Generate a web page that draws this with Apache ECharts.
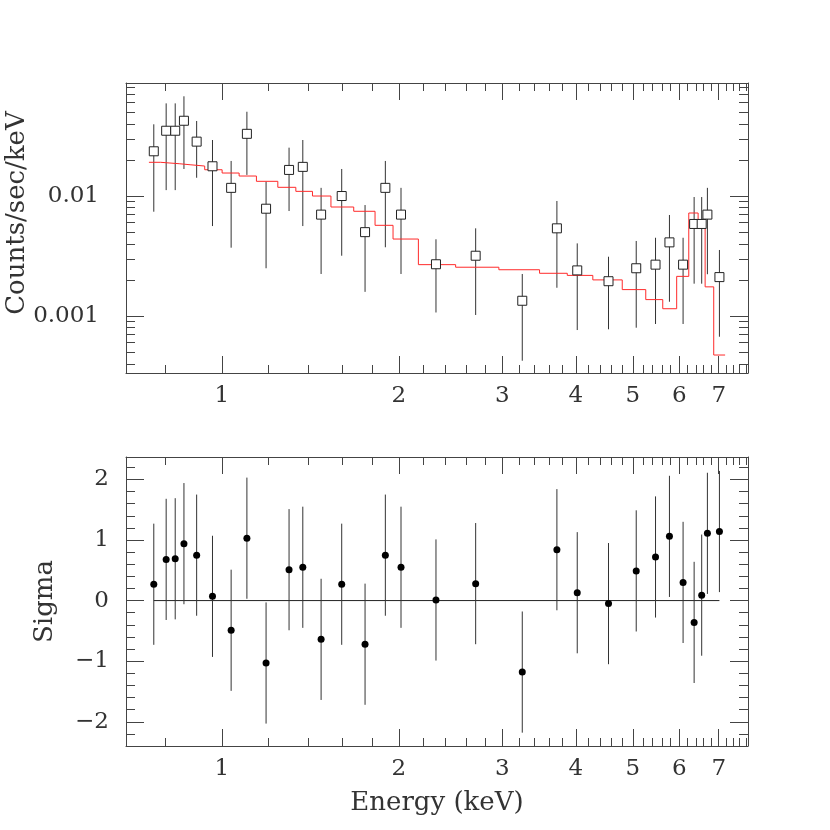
<!DOCTYPE html>
<html>
<head>
<meta charset="utf-8">
<script src="https://cdn.jsdelivr.net/npm/echarts@6/dist/echarts.min.js"></script>
<style>
  html, body { margin: 0; padding: 0; background: #fff; }
  #chart { width: 830px; height: 830px; }
</style>
</head>
<body>
<div id="chart"></div>
<script>
// data points (energy in keV)
const energy = [0.766, 0.804, 0.833, 0.862, 0.906, 0.964, 1.037, 1.103, 1.189, 1.301,
  1.373, 1.475, 1.599, 1.752, 1.897, 2.017, 2.313, 2.702, 3.243, 3.714,
  4.022, 4.546, 5.067, 5.465, 5.771, 6.088, 6.357, 6.548, 6.696, 7.019];
const counts = [0.0236, 0.0350, 0.0350, 0.0424, 0.0284, 0.0177, 0.0117, 0.0330, 0.00784, 0.0165,
  0.0175, 0.0070, 0.0100, 0.0050, 0.0117, 0.0070, 0.0027, 0.00318, 0.00134, 0.00538,
  0.0024, 0.00195, 0.0025, 0.00268, 0.00411, 0.00268, 0.00585, 0.00585, 0.0070, 0.00211];
const countsLo = [0.0074, 0.0112, 0.0112, 0.0168, 0.0142, 0.00562, 0.00371, 0.0150, 0.0025, 0.0075,
  0.00562, 0.00224, 0.00318, 0.00159, 0.00374, 0.00224, 0.00107, 0.00102, 0.000424, 0.00172,
  0.000764, 0.000775, 0.000799, 0.000858, 0.001315, 0.000858, 0.00186, 0.00186, 0.00223, 0.000672];
const countsHi = [0.0396, 0.0592, 0.0592, 0.0678, 0.0422, 0.0293, 0.0196, 0.0504, 0.0132, 0.0253,
  0.0293, 0.0117, 0.0168, 0.00841, 0.0196, 0.0117, 0.00436, 0.00538, 0.00224, 0.00909,
  0.00403, 0.00312, 0.00422, 0.00449, 0.00695, 0.00449, 0.00981, 0.00981, 0.0117, 0.00355];
const sigma = [0.27, 0.68, 0.69, 0.94, 0.75, 0.07, -0.49, 1.03, -1.03, 0.51,
  0.55, -0.64, 0.27, -0.72, 0.75, 0.55, 0.01, 0.28, -1.18, 0.84,
  0.13, -0.05, 0.49, 0.72, 1.06, 0.30, -0.36, 0.09, 1.11, 1.14];
const sigmaErr = 1;

// model histogram
const modelEdges = [0.7515, 0.787, 0.816, 0.846, 0.883, 0.935, 1.001, 1.070, 1.145, 1.245,
  1.336, 1.426, 1.533, 1.676, 1.822, 1.955, 2.159, 2.498, 2.959, 3.470,
  3.868, 4.275, 4.797, 5.260, 5.622, 5.937, 6.225, 6.457, 6.637, 6.864, 7.177];
const modelValues = [0.0191, 0.01884, 0.01859, 0.01823, 0.01778, 0.01656, 0.01555, 0.01468, 0.01326, 0.01182,
  0.01094, 0.0100, 0.00810, 0.00746, 0.00570, 0.00438, 0.00268, 0.00255, 0.00243, 0.00227,
  0.00218, 0.00200, 0.00166, 0.00137, 0.00115, 0.00214, 0.00722, 0.00548, 0.00175, 0.000473];

// ticks
const xMajor = [1, 2, 3, 4, 5, 6, 7];
const xMinor = [0.8, 1.2, 1.4, 1.6, 1.8, 2.2, 2.4, 2.6, 2.8, 3.2, 3.4, 3.6, 3.8,
  4.2, 4.4, 4.6, 4.8, 5.2, 5.4, 5.6, 5.8, 6.2, 6.4, 6.6, 6.8, 7.2, 7.4, 7.6, 7.8];
const yTopMajor = [0.001, 0.01];
const yTopMinor = [0.0004, 0.0005, 0.0006, 0.0007, 0.0008, 0.0009,
  0.002, 0.003, 0.004, 0.005, 0.006, 0.007, 0.008, 0.009,
  0.02, 0.03, 0.04, 0.05, 0.06, 0.07, 0.08];
const yBotMajor = [-2, -1, 0, 1, 2];
const yBotMinor = [-2.2, -1.8, -1.6, -1.4, -1.2, -0.8, -0.6, -0.4, -0.2,
  0.2, 0.4, 0.6, 0.8, 1.2, 1.4, 1.6, 1.8, 2.2];

const X_MIN = 0.687, X_MAX = 7.85;
const FONT = 'DejaVu Serif';
const INK = '#333';
const FRAME = '#444';

// frame: true draws the axis line, label: object or false
function xAx(grid, pos, ticks, len, frame, label, extra) {
  return Object.assign({
    type: 'log', logBase: 10, gridIndex: grid, position: pos, min: X_MIN, max: X_MAX,
    axisLine: { show: frame, onZero: false, lineStyle: { color: FRAME, width: 1 } },
    axisTick: { show: true, inside: true, length: len, customValues: ticks, lineStyle: { color: FRAME, width: 1 } },
    axisLabel: label ? {
      show: true, customValues: ticks, margin: 12, color: INK, fontFamily: FONT, fontSize: 23,
      formatter: v => String(v)
    } : { show: false },
    splitLine: { show: false }, minorTick: { show: false }
  }, extra || {});
}

function yAx(grid, pos, type, min, max, ticks, len, frame, label, extra) {
  return Object.assign({
    type: type, gridIndex: grid, position: pos, min: min, max: max,
    axisLine: { show: frame, onZero: false, lineStyle: { color: FRAME, width: 1 } },
    axisTick: { show: true, inside: true, length: len, customValues: ticks, lineStyle: { color: FRAME, width: 1 } },
    axisLabel: label ? Object.assign({
      show: true, customValues: ticks, color: INK, fontFamily: FONT, fontSize: 23
    }, label) : { show: false },
    splitLine: { show: false }, minorTick: { show: false }
  }, extra || {});
}

function errorBars(params, api) {
  const x = api.value(0);
  const p1 = api.coord([x, api.value(1)]);
  const p2 = api.coord([x, api.value(2)]);
  return {
    type: 'line',
    shape: { x1: p1[0], y1: p1[1], x2: p2[0], y2: p2[1] },
    style: { stroke: '#333', lineWidth: 1 }
  };
}

const modelLine = [];
modelValues.forEach((v, i) => {
  modelLine.push([modelEdges[i], v]);
  modelLine.push([modelEdges[i + 1], v]);
});

const nameStyle = { color: INK, fontFamily: FONT, fontSize: 26 };
const Y_TOP = [0.000335, 0.0875];
const Y_BOT = [-2.4, 2.37];

const chart = echarts.init(document.getElementById('chart'), null, { renderer: 'canvas' });
chart.setOption({
  backgroundColor: '#fff',
  animation: false,
  grid: [
    { left: 126, top: 83, width: 622, height: 290, containLabel: false, outerBoundsMode: 'none' },
    { left: 126, top: 457, width: 622, height: 289, containLabel: false, outerBoundsMode: 'none' }
  ],
  xAxis: [
    xAx(0, 'bottom', xMajor, 17, true, true),
    xAx(0, 'bottom', xMinor, 8, false, false),
    xAx(0, 'top', xMajor, 17, true, false),
    xAx(0, 'top', xMinor, 8, false, false),
    xAx(1, 'bottom', xMajor, 17, true, true, {
      name: 'Energy (keV)', nameLocation: 'middle', nameGap: 44, nameMoveOverlap: false,
      nameTextStyle: nameStyle
    }),
    xAx(1, 'bottom', xMinor, 8, false, false),
    xAx(1, 'top', xMajor, 17, true, false),
    xAx(1, 'top', xMinor, 8, false, false)
  ],
  yAxis: [
    yAx(0, 'left', 'log', Y_TOP[0], Y_TOP[1], yTopMajor, 18, true, { margin: 27, formatter: v => String(v) }, {
      logBase: 10, name: 'Counts/sec/keV', nameLocation: 'middle', nameGap: 96, nameMoveOverlap: false,
      nameTextStyle: Object.assign({ padding: [0, 0, 0, 30] }, nameStyle)
    }),
    yAx(0, 'left', 'log', Y_TOP[0], Y_TOP[1], yTopMinor, 9, false, false, { logBase: 10 }),
    yAx(0, 'right', 'log', Y_TOP[0], Y_TOP[1], yTopMajor, 18, true, false, { logBase: 10 }),
    yAx(0, 'right', 'log', Y_TOP[0], Y_TOP[1], yTopMinor, 9, false, false, { logBase: 10 }),
    yAx(1, 'left', 'value', Y_BOT[0], Y_BOT[1], yBotMajor, 18, true, {
      margin: 17, formatter: v => (v < 0 ? '\u2212' + Math.abs(v) : String(v))
    }, {
      name: 'Sigma', nameLocation: 'middle', nameGap: 68, nameMoveOverlap: false, nameTextStyle: nameStyle
    }),
    yAx(1, 'left', 'value', Y_BOT[0], Y_BOT[1], yBotMinor, 9, false, false),
    yAx(1, 'right', 'value', Y_BOT[0], Y_BOT[1], yBotMajor, 18, true, false),
    yAx(1, 'right', 'value', Y_BOT[0], Y_BOT[1], yBotMinor, 9, false, false)
  ],
  series: [
    {
      type: 'custom', xAxisIndex: 0, yAxisIndex: 0,
      renderItem: errorBars,
      encode: { x: 0, y: [1, 2] },
      data: energy.map((e, i) => [e, countsLo[i], countsHi[i]]),
      z: 2
    },
    {
      type: 'line', xAxisIndex: 0, yAxisIndex: 0,
      data: modelLine, showSymbol: false, symbol: 'none',
      lineStyle: { color: '#ff2a2a', width: 1 },
      z: 3
    },
    {
      type: 'scatter', xAxisIndex: 0, yAxisIndex: 0,
      symbol: 'rect', symbolSize: 9,
      itemStyle: { color: '#fff', borderColor: '#222', borderWidth: 1, opacity: 1 },
      data: energy.map((e, i) => [e, counts[i]]),
      z: 4
    },
    {
      type: 'line', xAxisIndex: 4, yAxisIndex: 4,
      data: [[energy[0], 0], [energy[energy.length - 1], 0]],
      symbol: 'none', lineStyle: { color: '#222', width: 1 },
      z: 2
    },
    {
      type: 'custom', xAxisIndex: 4, yAxisIndex: 4,
      renderItem: errorBars,
      encode: { x: 0, y: [1, 2] },
      data: energy.map((e, i) => [e, sigma[i] - sigmaErr, sigma[i] + sigmaErr]),
      z: 3
    },
    {
      type: 'scatter', xAxisIndex: 4, yAxisIndex: 4,
      symbol: 'circle', symbolSize: 7,
      itemStyle: { color: '#000', opacity: 1 },
      data: energy.map((e, i) => [e, sigma[i]]),
      z: 4
    }
  ]
});
</script>
</body>
</html>
